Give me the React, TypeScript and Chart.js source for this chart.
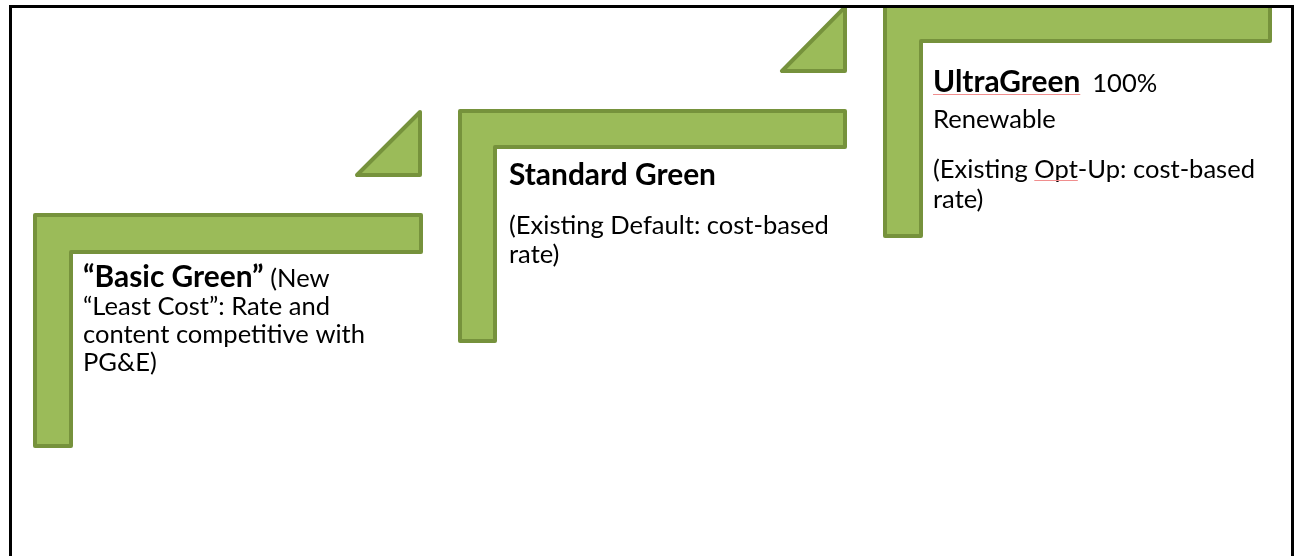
import React, { useEffect, useRef } from "react";
import { Chart, registerables } from "chart.js";

Chart.register(...registerables);

const PAGE_W = 1296;
const PAGE_H = 556;

// Step shapes (diagram units = page pixels, origin top-left)
const basicStepX = [35, 421, 421, 71, 71, 35, 35];
const basicStepY = [215, 215, 252, 252, 446, 446, 215];
const standardStepX = [460, 845, 845, 495, 495, 460, 460];
const standardStepY = [111, 111, 147, 147, 341, 341, 111];
const ultraStepX = [885, 1270, 1270, 921, 921, 885, 885];
const ultraStepY = [2, 2, 41, 41, 236, 236, 2];
const riserOneX = [357, 420, 420, 357];
const riserOneY = [175, 112, 175, 175];
const riserTwoX = [782, 848, 845, 845, 782];
const riserTwoY = [71, 4, 4, 71, 71];

// Texts
const basicTitle = "\u201cBasic Green\u201d";
const basicTitleTail = " (New";
const basicLines = ["\u201cLeast Cost\u201d: Rate and", "content competitive with", "PG&E)"];
const standardTitle = "Standard Green";
const standardLines = ["(Existing Default: cost-based", "rate)"];
const ultraTitle = "UltraGreen";
const ultraTitleTail = "100%";
const ultraLines = ["Renewable", "(Existing Opt-Up: cost-based", "rate)"];

const FILL = "#9BBB59";
const EDGE = "#76923C";
const FAMILY = "Lato, 'Open Sans', sans-serif";

const shapes = [
  { xs: basicStepX, ys: basicStepY },
  { xs: riserOneX, ys: riserOneY },
  { xs: standardStepX, ys: standardStepY },
  { xs: riserTwoX, ys: riserTwoY },
  { xs: ultraStepX, ys: ultraStepY },
];

export default function App() {
  const ref = useRef<HTMLCanvasElement | null>(null);

  useEffect(() => {
    const canvas = ref.current;
    if (!canvas) return;

    const textPlugin = {
      id: "diagramText",
      afterDatasetsDraw(chart: any) {
        const ctx = chart.ctx as CanvasRenderingContext2D;
        const xs = chart.scales.x;
        const ys = chart.scales.y;
        const px = (v: number) => xs.getPixelForValue(v);
        const py = (v: number) => ys.getPixelForValue(v);

        ctx.save();
        ctx.font = `100px ${FAMILY}`;
        const regW = ctx.measureText("(Existing Default: cost-based").width;
        ctx.font = `bold 100px ${FAMILY}`;
        const boldW = ctx.measureText("Standard Green").width;
        const regSize = (100 * 320) / regW;
        const boldSize = (100 * 207) / boldW;
        const REG = `${regSize.toFixed(2)}px ${FAMILY}`;
        const BOLD = `bold ${boldSize.toFixed(2)}px ${FAMILY}`;
        ctx.fillStyle = "#000";
        ctx.textBaseline = "alphabetic";
        ctx.textAlign = "left";

        // Basic Green
        let x0 = px(83);
        ctx.font = BOLD;
        ctx.fillText(basicTitle, x0, py(287));
        const bw = ctx.measureText(basicTitle).width;
        ctx.font = REG;
        ctx.fillText(basicTitleTail, x0 + bw, py(287));
        basicLines.forEach((t, i) => ctx.fillText(t, x0, py(315 + i * 28)));

        // Standard Green
        x0 = px(509);
        ctx.font = BOLD;
        ctx.fillText(standardTitle, x0, py(185));
        ctx.font = REG;
        ctx.fillText(standardLines[0], x0, py(234));
        ctx.fillText(standardLines[1], x0, py(263));

        // UltraGreen
        x0 = px(933);
        ctx.font = BOLD;
        ctx.fillText(ultraTitle, x0, py(92));
        const uw = ctx.measureText(ultraTitle).width;
        ctx.font = REG;
        ctx.fillText(ultraTitleTail, x0 + uw + 12, py(92));
        ctx.fillText(ultraLines[0], x0, py(128));
        ctx.fillText(ultraLines[1], x0, py(178));
        ctx.fillText(ultraLines[2], x0, py(208));

        // spell-check underlines
        ctx.strokeStyle = "#F08E8E";
        ctx.lineWidth = 1;
        ctx.beginPath();
        ctx.moveTo(x0, py(94) + 0.5);
        ctx.lineTo(x0 + uw, py(94) + 0.5);
        const pre = ctx.measureText("(Existing ").width;
        const opt = ctx.measureText("Opt").width;
        ctx.moveTo(x0 + pre, py(180) + 0.5);
        ctx.lineTo(x0 + pre + opt, py(180) + 0.5);
        ctx.stroke();
        ctx.restore();
      },
      afterDraw(chart: any) {
        const ctx = chart.ctx as CanvasRenderingContext2D;
        ctx.save();
        ctx.fillStyle = "#000";
        ctx.fillRect(9, 5, 3, PAGE_H);
        ctx.fillRect(9, 5, 1284, 3);
        ctx.fillRect(1291, 5, 3, PAGE_H);
        ctx.restore();
      },
    };

    const chart = new Chart(canvas, {
      type: "line",
      data: {
        datasets: shapes.map((s) => ({
          data: s.xs.map((x, i) => ({ x, y: s.ys[i] })),
          borderColor: EDGE,
          backgroundColor: FILL,
          borderWidth: 4,
          fill: "shape",
          pointRadius: 0,
          pointHoverRadius: 0,
          tension: 0,
          borderJoinStyle: "round",
          borderCapStyle: "round",
          clip: { left: 10, right: 10, top: 0, bottom: 10 },
        })) as any,
      },
      options: {
        animation: false,
        responsive: false,
        maintainAspectRatio: false,
        events: [],
        layout: { padding: { top: 8, left: 0, right: 0, bottom: 0 } },
        plugins: { legend: { display: false }, tooltip: { enabled: false }, title: { display: false } },
        scales: {
          x: { type: "linear", min: 0, max: PAGE_W, display: false },
          y: { type: "linear", min: 8, max: PAGE_H, reverse: true, display: false },
        },
      },
      plugins: [textPlugin],
    });
    return () => chart.destroy();
  }, []);

  return (
    <div style={{ position: "absolute", left: 0, top: 0, width: PAGE_W, height: PAGE_H, background: "#fff" }}>
      <canvas ref={ref} width={PAGE_W} height={PAGE_H} style={{ display: "block" }} />
    </div>
  );
}
